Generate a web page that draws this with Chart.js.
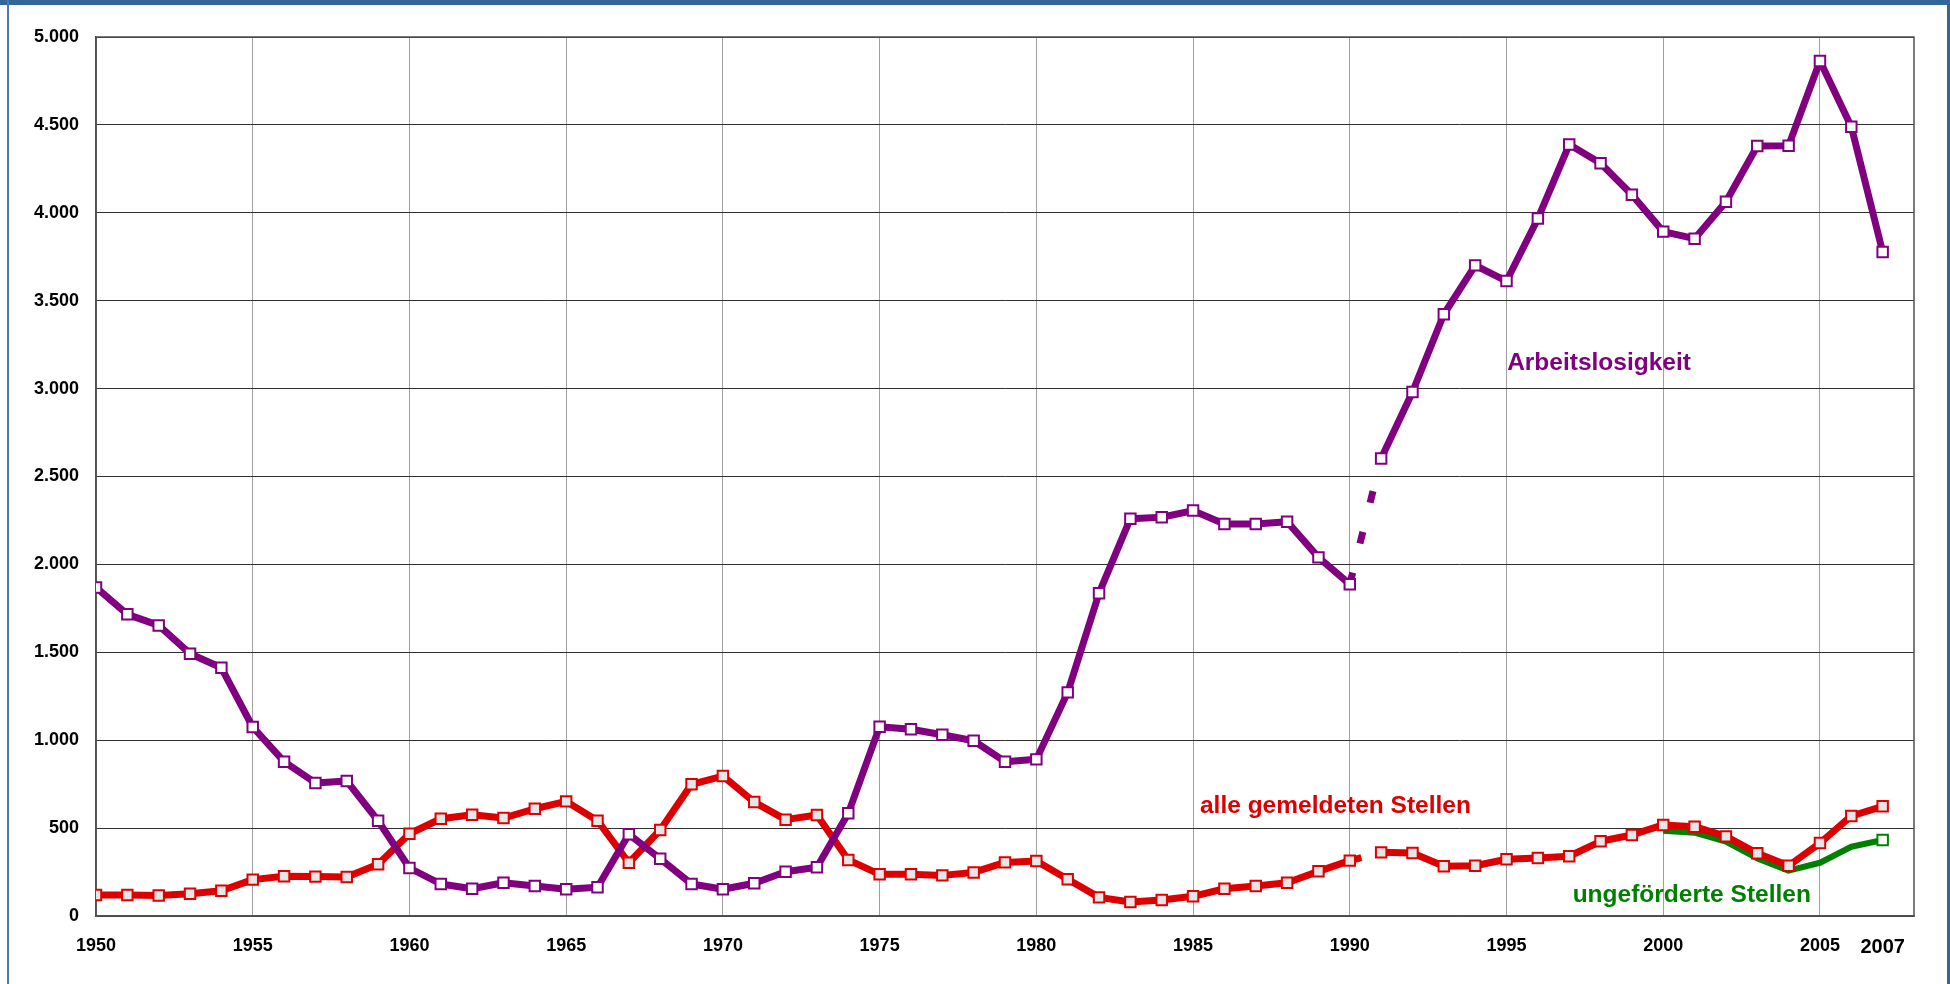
<!DOCTYPE html>
<html>
<head>
<meta charset="utf-8">
<script src="https://cdn.jsdelivr.net/npm/chart.js@4/dist/chart.umd.min.js"></script>
<style>
  html, body { margin: 0; padding: 0; background: #ffffff; overflow: hidden; }
  #wrap { position: relative; width: 1950px; height: 984px; }
  #frameTop { position: absolute; left: 0; top: 0; width: 1950px; height: 5px; background: #336699; }
  #frameLeft { position: absolute; left: 7px; top: 0; width: 2px; height: 984px; background: #4a7ab0; }
  #frameRight { position: absolute; left: 1947px; top: 0; width: 3px; height: 984px; background: #336699; }
  canvas { position: absolute; left: 0; top: 0; }
</style>
</head>
<body>
<div id="wrap">
  <canvas id="c" width="1950" height="984"></canvas>
  <div id="frameTop"></div>
  <div id="frameLeft"></div>
  <div id="frameRight"></div>
</div>
<script>
// ---- Data (thousands) ----
const years = [1950,1951,1952,1953,1954,1955,1956,1957,1958,1959,
               1960,1961,1962,1963,1964,1965,1966,1967,1968,1969,
               1970,1971,1972,1973,1974,1975,1976,1977,1978,1979,
               1980,1981,1982,1983,1984,1985,1986,1987,1988,1989,
               1990,1991,1992,1993,1994,1995,1996,1997,1998,1999,
               2000,2001,2002,2003,2004,2005,2006,2007];

const arbeitslosigkeit = [1869,1716,1653,1492,1412,1075,878,757,768,542,
                          273,182,155,189,171,152,163,465,326,182,
                          152,186,252,277,584,1077,1062,1031,997,878,
                          891,1272,1836,2260,2268,2306,2230,2230,2243,2040,
                          1887,2603,2981,3423,3701,3612,3967,4388,4282,4103,
                          3893,3853,4063,4380,4382,4863,4490,3777];

const alleStellen = [119,119,117,127,144,207,226,224,222,294,
                     468,553,576,557,610,652,542,303,489,749,
                     796,648,548,575,319,237,237,231,248,305,
                     313,209,106,80,91,112,155,171,189,254,
                     315,362,358,283,286,323,330,340,425,461,
                     518,508,453,357,286,415,569,624];

const yearsUngefoerdert = [2000,2001,2002,2003,2004,2005,2006,2007];
const ungefoerderteStellen = [485,474,423,328,258,303,394,432];

const xTickValues = [1950,1955,1960,1965,1970,1975,1980,1985,1990,1995,2000,2005,2007];

const labelTexts  = ['Arbeitslosigkeit', 'alle gemeldeten Stellen', 'ungeförderte Stellen'];
const labelYears  = [1995.02, 1985.22, 1997.11];
const labelValues = [3146, 626, 119];
const labelColors = ['#800080', '#dd0000', '#008000'];

const BREAK_INDEX = years.indexOf(1990);

const toPoints = (xs, ys) => xs.map((x, i) => ({ x: x, y: ys[i] }));

function fmtDE(v) {
  if (v >= 1000) {
    const t = Math.floor(v / 1000);
    const r = String(v % 1000).padStart(3, '0');
    return t + '.' + r;
  }
  return String(v);
}

const FONT = '"Liberation Sans", Arial, sans-serif';

const textLabels = {
  id: 'textLabels',
  afterDatasetsDraw(chart) {
    const { ctx, scales } = chart;
    ctx.save();
    ctx.font = 'bold 24.5px ' + FONT;
    ctx.textAlign = 'left';
    ctx.textBaseline = 'middle';
    labelTexts.forEach((t, i) => {
      ctx.fillStyle = labelColors[i];
      ctx.fillText(t, scales.x.getPixelForValue(labelYears[i]), scales.y.getPixelForValue(labelValues[i]));
    });
    ctx.restore();
  }
};

const areaBorder = {
  id: 'areaBorder',
  beforeDatasetsDraw(chart) {
    const { ctx, chartArea: a } = chart;
    ctx.save();
    ctx.strokeStyle = '#505050';
    ctx.lineWidth = 1.5;
    ctx.strokeRect(a.left, a.top, a.right - a.left, a.bottom - a.top);
    ctx.restore();
  }
};

new Chart(document.getElementById('c'), {
  type: 'line',
  data: {
    datasets: [
      {
        label: 'Arbeitslosigkeit',
        data: toPoints(years, arbeitslosigkeit),
        borderColor: '#800080',
        borderWidth: 7,
        pointStyle: 'rect',
        pointRadius: 7.4,
        pointBorderWidth: 2,
        pointBorderColor: '#800080',
        pointBackgroundColor: '#ffffff',
        borderJoinStyle: 'round',
        tension: 0,
        segment: {
          borderDash: c => c.p0DataIndex === BREAK_INDEX ? [12, 30] : undefined
        }
      },
      {
        label: 'alle gemeldeten Stellen',
        data: toPoints(years, alleStellen),
        borderColor: '#dd0000',
        borderWidth: 7,
        pointStyle: 'rect',
        pointRadius: 7.4,
        pointBorderWidth: 2,
        pointBorderColor: '#dd0000',
        pointBackgroundColor: '#e6e6e6',
        borderJoinStyle: 'round',
        tension: 0,
        segment: {
          borderDash: c => c.p0DataIndex === BREAK_INDEX ? [12, 30] : undefined
        }
      },
      {
        label: 'ungeförderte Stellen',
        data: toPoints(yearsUngefoerdert, ungefoerderteStellen),
        borderColor: '#008000',
        borderWidth: 6,
        pointStyle: 'rect',
        pointRadius: c => c.dataIndex === yearsUngefoerdert.length - 1 ? 7.4 : 0,
        pointBorderWidth: 2,
        pointBorderColor: '#008000',
        pointBackgroundColor: '#ffffff',
        borderJoinStyle: 'round',
        tension: 0
      }
    ]
  },
  options: {
    responsive: false,
    animation: false,
    events: [],
    layout: { padding: { top: 37, right: 36, left: 0, bottom: 0 } },
    plugins: { legend: { display: false }, tooltip: { enabled: false } },
    scales: {
      x: {
        type: 'linear',
        min: 1950,
        max: 2008,
        afterBuildTicks: s => { s.ticks = xTickValues.map(v => ({ value: v })); },
        afterFit: s => { s.height = 68; },
        grid: {
          color: c => (c.tick && c.tick.value === 2007) ? 'rgba(0,0,0,0)' : '#a0a0a0',
          lineWidth: 1,
          drawTicks: false
        },
        border: { display: true, color: '#505050', width: 1.5 },
        ticks: {
          padding: 19,
          color: '#000000',
          maxRotation: 0,
          autoSkip: false,
          font: c => ({ family: FONT, weight: 'bold', size: (c.tick && c.tick.value === 2007) ? 20 : 18 }),
          callback: v => String(v)
        }
      },
      y: {
        min: 0,
        max: 5000,
        afterFit: s => { s.width = 96; },
        grid: { color: '#303030', lineWidth: 1, drawTicks: false },
        border: { display: true, color: '#505050', width: 1.5 },
        ticks: {
          stepSize: 500,
          padding: 17,
          color: '#000000',
          font: { family: FONT, weight: 'bold', size: 18 },
          callback: v => fmtDE(v)
        }
      }
    }
  },
  plugins: [areaBorder, textLabels]
});
</script>
</body>
</html>
